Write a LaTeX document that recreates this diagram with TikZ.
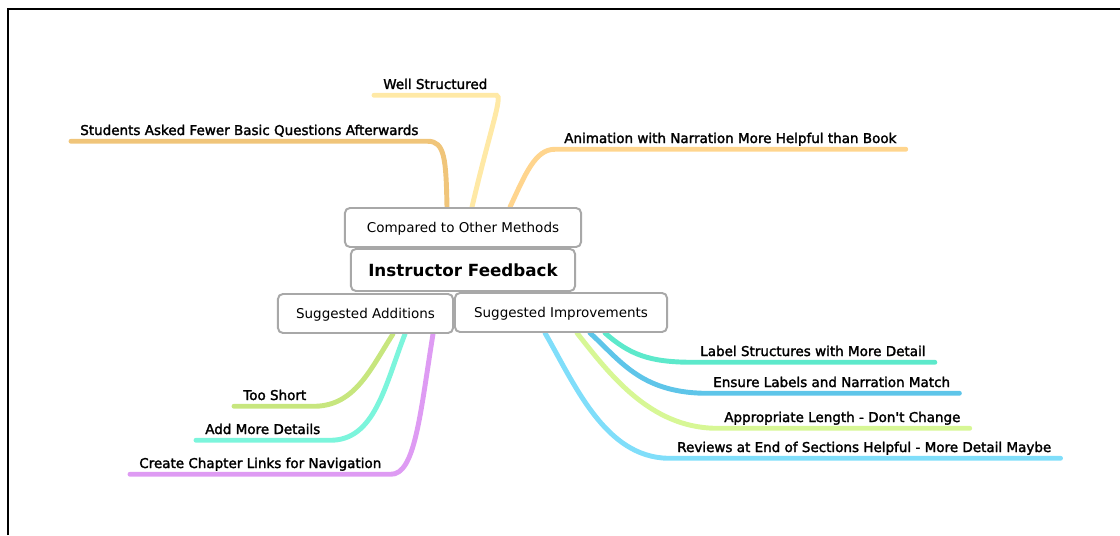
\documentclass[tikz,border=0pt]{standalone}
\usepackage{fontspec}
\setmainfont{DejaVu Sans}
\newfontfamily\leaffont[FakeBold=2]{DejaVu Sans}
\usepackage{xcolor}
\usepackage{tikz}
\usetikzlibrary{backgrounds}

\definecolor{boxgray}{HTML}{A8A8A8}
\definecolor{stucol}{HTML}{F0C57A}
\definecolor{wscol}{HTML}{FFE9A6}
\definecolor{anicol}{HTML}{FFD58E}
\definecolor{tscol}{HTML}{C7E67E}
\definecolor{amdcol}{HTML}{7CF5DC}
\definecolor{cclcol}{HTML}{DE9BF3}
\definecolor{lsdcol}{HTML}{5DE9CB}
\definecolor{elmcol}{HTML}{5EC5E9}
\definecolor{alccol}{HTML}{D7F795}
\definecolor{revcol}{HTML}{80DEFA}

\begin{document}
\begin{tikzpicture}[x=0.025cm,y=0.025cm,
    topic/.style={draw=boxgray,line width=1.4pt,rounded corners=3.5pt,fill=white,
        minimum height=0.975cm,inner sep=0pt,text depth=0pt,font=\fontsize{9.6}{11}\selectfont},
    leaf/.style={anchor=base west,inner xsep=0.225cm,inner ysep=0.15cm,text depth=0pt,
        font=\leaffont\fontsize{9.6}{11}\selectfont},
    branch/.style={line width=3.5pt,line cap=round}]
    \useasboundingbox (0,0) rectangle (1120,535);
    \draw[line width=1.4pt] (8,0) -- (8,526) -- (1120,526);

    \node[topic,minimum width=5.9cm] (cmp) at (463,307.5) {Compared to Other Methods};
    \node[topic,minimum width=5.6cm,minimum height=1.05cm,font=\bfseries\fontsize{11.9}{14}\selectfont] (root) at (463,265) {Instructor Feedback};
    \node[topic,minimum width=4.375cm] (add) at (365.5,221.5) {Suggested Additions};
    \node[topic,minimum width=5.3cm] (imp) at (561,222.5) {Suggested Improvements};

    \node[leaf] (stu) at (71,400) {Students Asked Fewer Basic Questions Afterwards};
    \node[leaf] (ws) at (374,446) {Well Structured};
    \node[leaf] (ani) at (555,392) {Animation with Narration More Helpful than Book};
    \node[leaf] (ts) at (234,135) {Too Short};
    \node[leaf] (amd) at (196,101) {Add More Details};
    \node[leaf] (ccl) at (130,67) {Create Chapter Links for Navigation};
    \node[leaf] (lsd) at (691,179) {Label Structures with More Detail};
    \node[leaf] (elm) at (704,148) {Ensure Labels and Narration Match};
    \node[leaf] (alc) at (715,113) {Appropriate Length - Don't Change};
    \node[leaf] (rev) at (668,83) {Reviews at End of Sections Helpful - More Detail Maybe};

    \begin{scope}[on background layer]
    % compared to other methods
    \draw[branch,stucol] (447,0 |- cmp.north) .. controls (446,375) and (445,394) .. (stu.south east) -- (stu.south west);
    \draw[branch,wscol] (472,0 |- cmp.north) .. controls (490,405) and (503,439) .. (ws.south east) -- (ws.south west);
    \draw[branch,anicol] (510,0 |- cmp.north) .. controls (525,360) and (535,386) .. (ani.south west) -- (ani.south east);
    % suggested additions
    \draw[branch,tscol] (393,0 |- add.south) .. controls (370,165) and (355,130) .. (ts.south east) -- (ts.south west);
    \draw[branch,amdcol] (405,0 |- add.south) .. controls (385,150) and (375,94) .. (amd.south east) -- (amd.south west);
    \draw[branch,cclcol] (433,0 |- add.south) .. controls (420,120) and (415,60) .. (ccl.south east) -- (ccl.south west);
    % suggested improvements
    \draw[branch,lsdcol] (605,0 |- imp.south) .. controls (630,180) and (650,173) .. (lsd.south west) -- (lsd.south east);
    \draw[branch,elmcol] (590,0 |- imp.south) .. controls (620,175) and (640,143) .. (elm.south west) -- (elm.south east);
    \draw[branch,alccol] (577,0 |- imp.south) .. controls (610,160) and (650,108) .. (alc.south west) -- (alc.south east);
    \draw[branch,revcol] (545,0 |- imp.south) .. controls (575,150) and (605,78) .. (rev.south west) -- (rev.south east);
    \end{scope}
\end{tikzpicture}
\end{document}
